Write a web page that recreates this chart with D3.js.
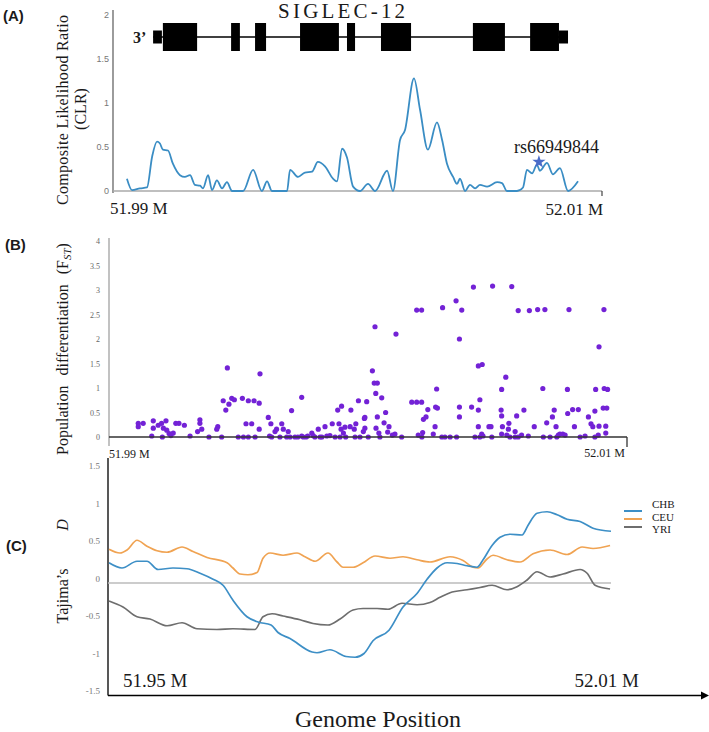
<!DOCTYPE html>
<html><head><meta charset="utf-8">
<script src="https://cdn.jsdelivr.net/npm/d3@7"></script>
<style>body{margin:0;background:#fff}svg{display:block}</style>
</head><body>
<svg id="c" width="709" height="732"></svg>
<script>
// ---------- DATA ----------
// Panel A: CLR along 51.99–52.01 M (position in kb from 51.99 M)
const clrTicks = [0, 0.5, 1, 1.5, 2];
const clrCurve = [
[0.57,0.14],[0.78,0.01],[1.10,0.03],[1.39,0.04],[1.60,0.39],[1.80,0.56],[1.92,0.54],[2.04,0.47],[2.25,0.46],
[2.45,0.31],[2.74,0.18],[2.94,0.16],[3.15,0.18],[3.35,0.07],[3.56,0.06],[3.68,0.03],[3.89,0.18],[4.05,0.01],
[4.25,0.12],[4.46,0.03],[4.66,0.10],[4.87,0.0],[5.32,0.0],[5.73,0.24],[6.09,0.0],[6.30,0.11],[6.50,0.0],
[7.12,0.0],[7.24,0.24],[7.57,0.16],[7.85,0.21],[8.14,0.22],[8.38,0.33],[8.67,0.28],[9.00,0.14],[9.16,0.11],
[9.37,0.48],[9.57,0.38],[9.82,0.05],[10.10,0.0],[10.43,0.08],[10.72,0.0],[11.21,0.23],[11.45,0.0],[11.74,0.58],
[11.94,0.69],[12.31,1.28],[12.56,0.92],[12.88,0.47],[13.25,0.78],[13.46,0.58],[13.66,0.31],[13.91,0.16],
[14.07,0.08],[14.19,0.14],[14.40,0.0],[14.60,0.07],[14.81,0.03],[15.01,0.07],[15.30,0.05],[15.71,0.10],
[15.91,0.09],[16.11,0.0],[16.52,0.0],[16.77,0.04],[16.93,0.24],[17.14,0.20],[17.34,0.30],[17.46,0.23],
[17.75,0.32],[17.99,0.19],[18.28,0.26],[18.61,0.0],[19.02,0.11]
];
const geneName = "SIGLEC-12";
const exonStartKb = [1.64, 2.04, 4.83, 5.81, 7.65, 9.57, 10.96, 14.72, 17.06, 18.24];
const exonEndKb   = [2.00, 3.44, 5.19, 6.26, 9.24, 9.90, 12.19, 16.03, 18.24, 18.61];
const exonKind    = ["utr","cds","cds","cds","cds","cds","cds","cds","cds","utr"];
const snpName = "rs66949844";
const snpPosKb = 17.42, snpClr = 0.33;

// Panel B: FST per SNP [kb from 51.99 M, FST]
const fstTicks = [0, 0.5, 1, 1.5, 2, 2.5, 3, 3.5, 4];
const fstSnps = [
[1.13,0.28],[1.13,0.21],[1.32,0.28],[1.71,0.33],[1.71,0.18],[1.90,0.24],[2.03,0.28],[2.20,0.33],[2.10,0.18],
[2.23,0.14],[1.65,0.02],[2.06,0],[2.32,0.07],[2.39,0.03],[2.48,0.08],[2.58,0.28],[2.70,0.28],[2.91,0.24],
[3.13,0.02],[3.51,0.35],[3.51,0.28],[3.58,0.16],[3.42,0.11],[3.86,0],[4.20,0.21],[4.16,0.16],[4.35,0],
[4.57,1.41],[4.41,0.74],[4.51,0.55],[4.63,0.67],[4.74,0.79],[4.84,0.76],[5.15,0.79],[5.38,0.74],[5.60,0.74],
[5.80,0.69],[5.83,1.29],[5.29,0.27],[5.51,0.27],[5.80,0.16],[4.99,0],[5.19,0],[5.38,0],[5.64,0],[6.15,0.40],
[6.25,0.27],[6.20,0.02],[6.28,0],[6.41,0.11],[6.47,0.16],[6.67,0.27],[6.73,0.16],[6.92,0.11],[6.86,0],
[7.05,0.54],[6.99,0],[7.18,0],[7.29,0],[7.44,0.81],[7.44,0.02],[7.50,0],[7.67,0.02],[7.83,0.08],[7.95,0],
[8.08,0.16],[8.15,0],[8.34,0.21],[8.41,0.02],[8.62,0.27],[8.73,0],[8.83,0.55],[8.88,0.27],[8.98,0.63],
[8.96,0.16],[9.05,0.08],[9.11,0.20],[8.92,0],[9.14,0],[9.34,0.55],[9.31,0.21],[9.47,0.16],[9.53,0.27],
[9.63,0.74],[9.86,0.38],[9.95,0.72],[9.82,0.11],[9.50,0],[9.69,0],[6.60,0],[7.61,0],[7.88,0.03],[8.22,0],
[8.53,0.03],[9.88,0.40],[9.88,0.18],[10.01,0],[10.17,1.35],[10.24,1.10],[10.36,1.10],[10.27,2.25],
[10.30,0.89],[10.53,0.80],[10.36,0.41],[10.31,0.18],[10.42,0.08],[10.46,0],[10.68,0.50],[10.62,0.29],
[10.81,0.21],[10.76,0.10],[10.94,0.04],[11.04,0.06],[11.30,0],[11.08,2.10],[11.69,0.71],[11.88,0.71],
[12.07,0.71],[11.88,2.59],[12.07,2.59],[11.94,0.04],[12.11,0.09],[12.14,0.36],[12.24,0.41],[12.31,0.56],
[12.08,0],[12.52,0.06],[12.59,0.21],[12.61,0.61],[12.68,0.59],[12.65,0.98],[12.88,2.64],[12.85,0],[12.97,0],
[13.17,0],[13.42,0],[13.40,2.78],[13.62,2.59],[13.53,2.00],[13.53,0.61],[13.53,0.41],[14.00,0.61],[14.07,3.06],
[14.26,0.55],[14.32,0.76],[14.26,0.21],[14.26,1.45],[14.41,1.48],[14.13,0],[14.32,0],[14.39,0.06],[14.44,0.02],
[14.67,0.21],[14.75,0.21],[14.81,3.08],[14.78,0],[15.55,3.07],[15.80,2.58],[16.23,2.58],[16.55,2.60],
[16.83,2.60],[17.76,2.60],[19.11,2.60],[18.92,1.84],[15.32,1.22],[15.16,0.97],[16.75,0.99],[17.70,0.97],
[18.79,0.97],[19.12,0.99],[19.25,0.97],[15.14,0.55],[15.16,0.43],[15.19,0.21],[15.16,0.06],[15.44,0.28],
[15.42,0.16],[15.36,0.04],[15.48,0],[15.68,0.11],[15.74,0.43],[15.68,0],[15.80,0],[16.02,0.55],[15.93,0.04],
[16.19,0.02],[16.42,0.21],[16.77,0],[16.90,0.29],[17.12,0.41],[17.19,0.55],[17.26,0.21],[17.03,0],[17.35,0.04],
[17.41,0.06],[17.52,0.06],[17.61,0.04],[17.29,0],[17.71,0.48],[17.90,0.56],[18.12,0.56],[17.97,0.21],[18.19,0],
[18.38,0.02],[18.51,0.41],[18.61,0.27],[18.68,0.21],[18.76,0.53],[18.92,0.22],[18.76,0],[18.89,0.04],
[19.08,0.59],[19.22,0.59],[19.18,0.22],[19.18,0.08]
];

// Panel C: Tajima's D [kb from 51.95 M, D]
const tajimaTicks = [-1.5, -1, -0.5, 0, 0.5, 1, 1.5];
const populations = ["CHB", "CEU", "YRI"];
const chbD = [
[0.12,0.27],[1.67,0.20],[3.46,0.29],[4.65,0.29],[5.97,0.18],[7.75,0.20],[9.42,0.19],[10.98,0.13],[12.53,0.05],
[13.72,-0.03],[14.91,-0.23],[16.58,-0.45],[17.90,-0.52],[19.45,-0.56],[20.28,-0.66],[21.71,-0.74],[24.34,-0.92],
[24.93,-0.93],[26.48,-0.89],[28.39,-0.98],[29.47,-0.99],[30.54,-0.94],[31.61,-0.77],[33.52,-0.63],[35.19,-0.32],
[36.86,-0.14],[38.06,0.05],[39.25,0.20],[40.44,0.27],[41.64,0.26],[42.83,0.23],[44.02,0.21],[44.74,0.31],
[45.81,0.50],[46.77,0.61],[47.96,0.65],[49.39,0.64],[50.11,0.77],[51.18,0.93],[52.37,0.95],[53.57,0.91],
[54.76,0.85],[56.31,0.82],[57.86,0.73],[60.0,0.69]
];
const ceuD = [
[0.12,0.45],[1.43,0.40],[2.27,0.44],[3.46,0.57],[4.65,0.49],[5.85,0.43],[7.04,0.41],[8.83,0.48],[10.14,0.42],
[11.81,0.34],[14.20,0.27],[14.91,0.20],[15.75,0.12],[16.70,0.11],[17.78,0.14],[18.49,0.33],[19.33,0.40],
[20.88,0.37],[22.55,0.40],[23.50,0.35],[24.70,0.29],[26.24,0.40],[27.32,0.28],[28.04,0.21],[29.23,0.21],
[30.42,0.27],[31.85,0.36],[33.64,0.33],[35.19,0.35],[36.86,0.31],[38.41,0.28],[40.80,0.35],[42.35,0.30],
[43.54,0.21],[44.14,0.20],[45.21,0.32],[45.93,0.37],[47.60,0.31],[49.15,0.28],[50.70,0.39],[52.73,0.44],
[54.76,0.38],[56.55,0.48],[57.86,0.46],[59.89,0.50]
];
const yriD = [
[0.12,-0.24],[1.79,-0.32],[3.46,-0.45],[5.01,-0.48],[7.04,-0.57],[8.83,-0.53],[10.62,-0.61],[13.00,-0.62],
[14.91,-0.61],[17.54,-0.62],[18.49,-0.45],[19.57,-0.41],[20.88,-0.44],[22.91,-0.49],[24.46,-0.54],[26.24,-0.56],
[27.68,-0.48],[29.23,-0.36],[30.42,-0.34],[32.09,-0.34],[33.40,-0.35],[35.07,-0.27],[36.86,-0.29],[38.41,-0.26],
[39.61,-0.19],[40.80,-0.13],[42.83,-0.09],[44.38,-0.06],[45.81,-0.03],[47.60,-0.09],[48.79,-0.05],[49.99,0.04],
[51.18,0.15],[52.73,0.08],[54.28,0.12],[56.31,0.18],[57.15,0.13],[58.10,-0.03],[59.89,-0.08]
];

// ---------- DRAWING ----------
const svg = d3.select("#c");
const serif = "'Liberation Serif','Times New Roman',serif";
const sans = "'Liberation Sans',Arial,sans-serif";
const txt = (x, y, s, size, opts = {}) => svg.append("text").attr("x", x).attr("y", y)
  .attr("font-family", opts.font || serif).attr("font-size", size).attr("fill", opts.fill || "#1a1a1a")
  .attr("text-anchor", opts.anchor || "start").attr("font-weight", opts.weight || "normal").text(s);

// ===== Panel A =====
const xA = d3.scaleLinear().domain([0, 20]).range([113, 602]);
const yA = d3.scaleLinear().domain([0, 2]).range([191, 15]);
txt(3, 21, "(A)", 15, {font: sans, weight: "bold"});
svg.append("line").attr("x1", 113).attr("x2", 113).attr("y1", yA(2) - 5).attr("y2", yA(0) + 2)
  .attr("stroke", "#666").attr("stroke-width", 1.3);
svg.append("line").attr("x1", xA(0)).attr("x2", xA(20)).attr("y1", yA(0)).attr("y2", yA(0))
  .attr("stroke", "#aaa").attr("stroke-width", 1.6);
svg.append("line").attr("x1", xA(20)).attr("x2", xA(20)).attr("y1", yA(0)).attr("y2", yA(0) + 5)
  .attr("stroke", "#444").attr("stroke-width", 1.2);
const gA = svg.append("g").attr("transform", "translate(113,0)")
  .call(d3.axisLeft(yA).tickValues(clrTicks).tickSize(0).tickPadding(4).tickFormat(d => String(d)));
gA.select(".domain").remove();
gA.selectAll("text").attr("font-family", sans).attr("font-size", 9).attr("fill", "#777");

svg.append("text").attr("transform", "translate(68,110) rotate(-90)").attr("text-anchor", "middle")
  .attr("font-family", serif).attr("font-size", 16).attr("fill", "#1a1a1a")
  .attr("textLength", 190).attr("lengthAdjust", "spacing").text("Composite Likelihood Ratio");
svg.append("text").attr("transform", "translate(86,109) rotate(-90)").attr("text-anchor", "middle")
  .attr("font-family", serif).attr("font-size", 16).attr("fill", "#1a1a1a").text("(CLR)");

// gene model
const geneY = 37;
svg.append("text").attr("x", xA(9.35)).attr("y", 18).attr("text-anchor", "middle")
  .attr("font-family", serif).attr("font-size", 21).attr("fill", "#1a1a1a")
  .attr("textLength", 127).attr("lengthAdjust", "spacing").text(geneName);
txt(133, 43, "3’", 16, {weight: "bold"});
svg.append("line").attr("x1", xA(d3.min(exonStartKb))).attr("x2", xA(d3.max(exonEndKb)))
  .attr("y1", geneY).attr("y2", geneY).attr("stroke", "#000").attr("stroke-width", 1.6);
svg.selectAll("rect.exon").data(exonStartKb.map((s, i) => ({s, e: exonEndKb[i], k: exonKind[i]})))
  .join("rect").attr("class", "exon")
  .attr("x", d => xA(d.s)).attr("width", d => xA(d.e) - xA(d.s))
  .attr("y", d => geneY - (d.k === "cds" ? 14 : 6.5)).attr("height", d => d.k === "cds" ? 28 : 13)
  .attr("fill", "#000");

// CLR curve
svg.append("path").datum(clrCurve)
  .attr("d", d3.line().x(d => xA(d[0])).y(d => yA(d[1])).curve(d3.curveMonotoneX))
  .attr("fill", "none").attr("stroke", "#3a8dc4").attr("stroke-width", 1.8);
svg.append("path").attr("d", d3.symbol(d3.symbolStar, 55)())
  .attr("transform", `translate(${xA(snpPosKb)},${yA(snpClr)})`).attr("fill", "#4a6cc9");
txt(xA(snpPosKb) - 25, 153, snpName, 18);
txt(110, 214, "51.99 M", 17);
txt(603, 215, "52.01 M", 17, {anchor: "end"});

// ===== Panel B =====
const xB = d3.scaleLinear().domain([0, 20]).range([109, 627]);
const yB = d3.scaleLinear().domain([0, 4]).range([437, 241]);
txt(5, 250, "(B)", 15, {font: sans, weight: "bold"});
svg.append("line").attr("x1", 109).attr("x2", 109).attr("y1", yB(4) - 3).attr("y2", 446)
  .attr("stroke", "#999").attr("stroke-width", 1.2);
const gB = svg.append("g").attr("transform", "translate(109,0)")
  .call(d3.axisLeft(yB).tickValues(fstTicks).tickSize(0).tickPadding(9).tickFormat(d => String(d)));
gB.select(".domain").remove();
gB.selectAll("text").attr("font-family", serif).attr("font-size", 8).attr("fill", "#666");

const tB = svg.append("text").attr("transform", "translate(68,349) rotate(-90)").attr("text-anchor", "middle")
  .attr("font-family", serif).attr("font-size", 16).attr("fill", "#1a1a1a").attr("word-spacing", 6);
tB.append("tspan").text("Population differentiation (F");
tB.append("tspan").attr("font-size", 11).attr("font-style", "italic").attr("dy", 3).text("ST");
tB.append("tspan").attr("dy", -3).text(")");

svg.selectAll("circle.fst").data(fstSnps).join("circle").attr("class", "fst")
  .attr("cx", d => xB(d[0])).attr("cy", d => yB(d[1])).attr("r", 2.6).attr("fill", "#7322d6");
svg.append("line").attr("x1", xB(0)).attr("x2", xB(20)).attr("y1", yB(0)).attr("y2", yB(0))
  .attr("stroke", "#333").attr("stroke-width", 1.3);
svg.append("line").attr("x1", xB(20)).attr("x2", xB(20)).attr("y1", yB(0)).attr("y2", yB(0) + 10)
  .attr("stroke", "#333").attr("stroke-width", 1.3);
txt(109, 458, "51.99 M", 12);
txt(625, 457, "52.01 M", 12, {anchor: "end"});

// ===== Panel C =====
const xC = d3.scaleLinear().domain([0, 60]).range([108, 611]);
const yC = d3.scaleLinear().domain([-1.5, 1.5]).range([695.5, 470.5]);
txt(6, 551, "(C)", 15, {font: sans, weight: "bold"});
svg.append("line").attr("x1", 108).attr("x2", 108).attr("y1", 458).attr("y2", yC(-1.5))
  .attr("stroke", "#111").attr("stroke-width", 1.4);
const gC = svg.append("g").attr("transform", "translate(108,0)")
  .call(d3.axisLeft(yC).tickValues(tajimaTicks).tickSize(0).tickPadding(8).tickFormat(d => String(d)));
gC.select(".domain").remove();
gC.selectAll("text").attr("font-family", serif).attr("font-size", 9).attr("fill", "#777")
  .attr("transform", "translate(0,-4.5)");
svg.append("line").attr("x1", xC(0)).attr("x2", xC(60)).attr("y1", yC(0)).attr("y2", yC(0))
  .attr("stroke", "#bbb").attr("stroke-width", 1.3);

svg.append("text").attr("transform", "translate(68,596) rotate(-90)").attr("text-anchor", "middle")
  .attr("font-family", serif).attr("font-size", 16).attr("fill", "#1a1a1a").text("Tajima’s");
svg.append("text").attr("transform", "translate(68,525) rotate(-90)").attr("text-anchor", "middle")
  .attr("font-family", serif).attr("font-size", 16).attr("font-style", "italic").attr("fill", "#1a1a1a").text("D");

const popColor = {CHB: "#3d8fc6", CEU: "#f0a352", YRI: "#6e6e6e"};
const popData = {CHB: chbD, CEU: ceuD, YRI: yriD};
const lineC = d3.line().x(d => xC(d[0])).y(d => yC(d[1])).curve(d3.curveMonotoneX);
["YRI", "CEU", "CHB"].forEach(p => {
  svg.append("path").datum(popData[p]).attr("d", lineC).attr("fill", "none")
    .attr("stroke", popColor[p]).attr("stroke-width", 1.7);
});
populations.forEach((p, i) => {
  svg.append("line").attr("x1", 624).attr("x2", 642).attr("y1", 511 + i * 8).attr("y2", 511 + i * 8)
    .attr("stroke", popColor[p]).attr("stroke-width", 2);
  txt(652, 508 + i * 12.5, p, 11);
});

svg.append("line").attr("x1", 108).attr("x2", 702).attr("y1", yC(-1.5)).attr("y2", yC(-1.5))
  .attr("stroke", "#000").attr("stroke-width", 1.6);
svg.append("path").attr("d", `M701,${yC(-1.5) - 4}L709,${yC(-1.5)}L701,${yC(-1.5) + 4}Z`).attr("fill", "#000");
txt(123, 687, "51.95 M", 19);
txt(639, 687, "52.01 M", 19, {anchor: "end"});
txt(378, 727, "Genome Position", 24, {anchor: "middle"});
</script>
</body></html>
